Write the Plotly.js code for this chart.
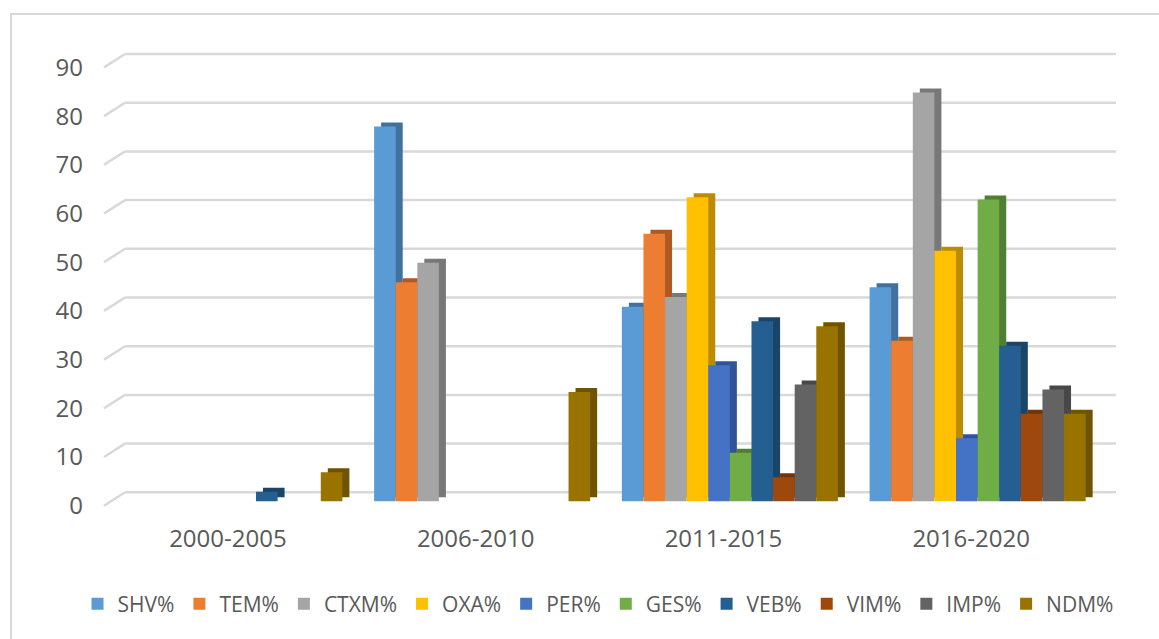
<!DOCTYPE html>
<html>
<head>
<meta charset="utf-8">
<script src="https://cdn.plot.ly/plotly-3.0.1.min.js"></script>
<style>
  html, body { margin: 0; padding: 0; background: #fff; }
  #plot { width: 1159px; height: 639px; }
</style>
</head>
<body>
<div id="plot"></div>
<script>
// dati
var periodi = ['2000-2005', '2006-2010', '2011-2015', '2016-2020'];
var SHV  = [0, 77,   40,   44];
var TEM  = [0, 45,   55,   33];
var CTXM = [0, 49,   42,   84];
var OXA  = [0, 0,    62.5, 51.5];
var PER  = [0, 0,    28,   13];
var GES  = [0, 0,    10,   62];
var VEB  = [2, 0,    37,   32];
var VIM  = [0, 0,    5,    18];
var IMP  = [0, 0,    24,   23];
var NDM  = [6, 22.5, 36,   18];
var tickY = [0, 10, 20, 30, 40, 50, 60, 70, 80, 90];

var nomi = ['SHV%', 'TEM%', 'CTXM%', 'OXA%', 'PER%', 'GES%', 'VEB%', 'VIM%', 'IMP%', 'NDM%'];
var serie = [SHV, TEM, CTXM, OXA, PER, GES, VEB, VIM, IMP, NDM];
var colori = ['#5B9BD5', '#ED7D31', '#A5A5A5', '#FFC000', '#4472C4',
              '#70AD47', '#255E91', '#9E480E', '#636363', '#997300'];
var lati = ['#41719C', '#AE5A21', '#787878', '#BC8C00', '#2F5597',
            '#507E32', '#1B4469', '#733409', '#484848', '#6F5300'];

// geometria in pixel (finta prospettiva 3D)
var L = 20, T = 50, W = 1119, H = 456;
function px(x) { return (x - L) / W; }
function py(y) { return (T + H - y) / H; }
var k = 438.3 / 90;          // pixel per unita'
var asse = 104, largo = 991; // piano delle etichette
var front0 = 505.7;
var bar0 = 501.5, barDx = 6.5;
var back0 = 492.3, backDx = 21;
var side = 7, sideUp = 4;

var indici = periodi.map(function (p, i) { return i; });

var data = [];
// facce laterali (sotto)
serie.forEach(function (s, i) {
  data.push({
    type: 'bar', x: periodi, y: s, name: nomi[i],
    xaxis: 'x', yaxis: 'y',
    marker: { color: lati[i], line: { width: 0 } },
    showlegend: false, hoverinfo: 'skip'
  });
});
// facce frontali
serie.forEach(function (s, i) {
  data.push({
    type: 'bar', x: periodi, y: s, name: nomi[i],
    xaxis: 'x2', yaxis: 'y2',
    marker: { color: colori[i], line: { width: 0 } }
  });
});
// traccia vuota solo per far disegnare gli assi delle etichette
data.push({
  type: 'scatter', mode: 'none', x: indici, y: indici.map(function () { return null; }),
  xaxis: 'x3', yaxis: 'y3', showlegend: false, hoverinfo: 'skip'
});

var shapes = [];
tickY.forEach(function (v) {
  var yb = back0 - v * k;
  shapes.push({
    type: 'line', layer: 'below', xref: 'paper', yref: 'paper',
    x0: px(asse + backDx), x1: px(asse + backDx + largo), y0: py(yb), y1: py(yb),
    line: { color: '#d9d9d9', width: 2.5 }
  });
  shapes.push({
    type: 'line', layer: 'below', xref: 'paper', yref: 'paper',
    x0: px(asse), y0: py(front0 - v * k), x1: px(asse + backDx), y1: py(yb),
    line: { color: '#d9d9d9', width: 2.5 }
  });
});
// bordo dell'area grafico
shapes.push({
  type: 'rect', layer: 'below', xref: 'paper', yref: 'paper',
  x0: px(11), y0: py(14), x1: px(1175), y1: py(660),
  line: { color: '#d9d9d9', width: 2 }, fillcolor: 'rgba(0,0,0,0)'
});

var nascosto = {
  showgrid: false, zeroline: false, showline: false,
  showticklabels: false, ticks: '', fixedrange: true
};
var fontAssi = { family: 'Open Sans, sans-serif', size: 24, color: '#595959' };

var layout = {
  width: 1159, height: 639,
  margin: { l: L, r: 1159 - L - W, t: T, b: 639 - T - H },
  paper_bgcolor: '#ffffff', plot_bgcolor: 'rgba(0,0,0,0)',
  barmode: 'group', bargap: 0.128, bargroupgap: 0,
  font: fontAssi,
  xaxis: Object.assign({}, nascosto, { domain: [px(asse + barDx + side), px(asse + barDx + side + largo)], anchor: 'y', range: [-0.5, 3.5] }),
  yaxis: Object.assign({}, nascosto, { domain: [py(bar0 - sideUp), py(bar0 - sideUp - 90 * k)], anchor: 'x', range: [0, 90] }),
  xaxis2: Object.assign({}, nascosto, { domain: [px(asse + barDx), px(asse + barDx + largo)], anchor: 'y2', range: [-0.5, 3.5] }),
  yaxis2: Object.assign({}, nascosto, { domain: [py(bar0), py(bar0 - 90 * k)], anchor: 'x2', range: [0, 90] }),
  xaxis3: {
    domain: [px(asse), px(asse + largo)], anchor: 'y3', type: 'linear', range: [-0.5, 3.5],
    tickmode: 'array', tickvals: indici, ticktext: periodi,
    showgrid: false, zeroline: false, showline: false, ticks: '',
    ticklabelstandoff: 16, tickfont: fontAssi, fixedrange: true
  },
  yaxis3: {
    domain: [py(front0), py(front0 - 90 * k)], anchor: 'x3', type: 'linear', range: [0, 90],
    tickmode: 'array', tickvals: tickY,
    showgrid: false, zeroline: false, showline: false, ticks: '',
    ticklabelstandoff: 20, tickfont: fontAssi, fixedrange: true
  },
  shapes: shapes,
  showlegend: true,
  legend: {
    orientation: 'h', xref: 'container', yref: 'container',
    x: 598 / 1159, xanchor: 'center', y: 1 - 604 / 639, yanchor: 'middle',
    font: { family: 'Open Sans, sans-serif', size: 21, color: '#595959' },
    traceorder: 'normal', itemclick: false, itemdoubleclick: false
  }
};

Plotly.newPlot('plot', data, layout, { displayModeBar: false, staticPlot: true });
</script>
</body>
</html>
